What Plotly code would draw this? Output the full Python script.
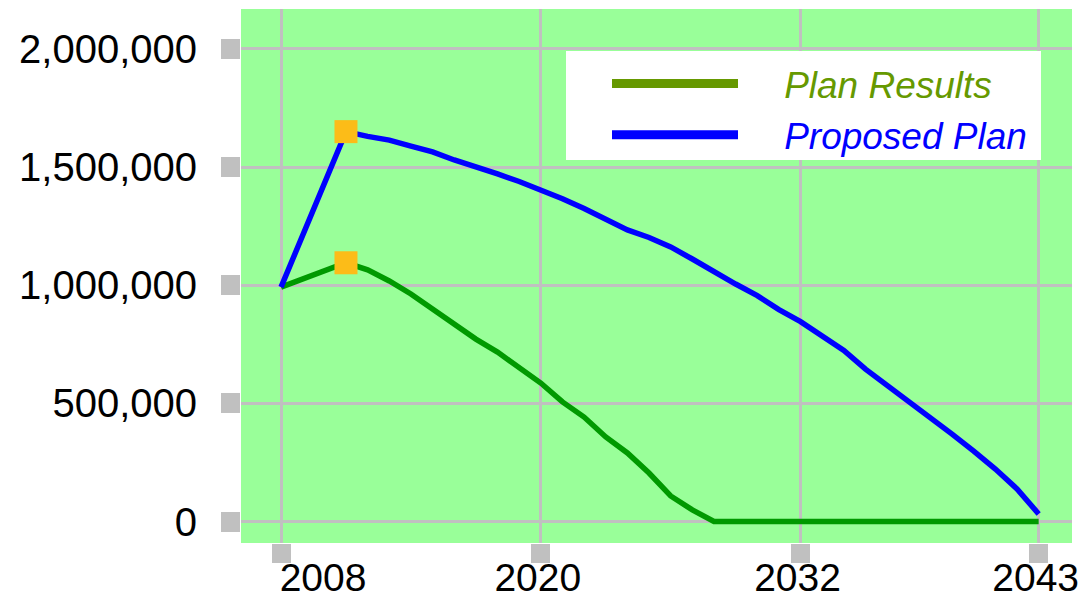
import plotly.graph_objects as go

# ---- data ----
years = [2008, 2011, 2012, 2013, 2014, 2015, 2016, 2017, 2018, 2019, 2020,
         2021, 2022, 2023, 2024, 2025, 2026, 2027, 2028, 2029, 2030, 2031,
         2032, 2033, 2034, 2035, 2036, 2037, 2038, 2039, 2040, 2041, 2042, 2043]

plan_results = [992000, 1095000, 1065000, 1018000, 963000, 899000, 832000,
                772000, 717000, 654000, 586000, 506000, 442000, 358000, 290000,
                205000, 108000, 49000, 0, 0, 0, 0, 0, 0, 0, 0, 0, 0, 0, 0, 0,
                0, 0, 0]

proposed_plan = [992000, 1650000, 1630000, 1614000, 1589000, 1564000, 1530000,
                 1502000, 1471000, 1439000, 1405000, 1366000, 1325000, 1277000,
                 1234000, 1202000, 1162000, 1111000, 1056000, 1005000, 956000,
                 897000, 846000, 785000, 724000, 645000, 578000, 508000, 440000,
                 370000, 298000, 222000, 138000, 32000]

peak_year = 2011
series_names = ["Plan Results", "Proposed Plan"]
x_tick_vals = [2008, 2020, 2032, 2043]
y_tick_vals = [0, 500000, 1000000, 1500000, 2000000]
y_tick_text = ["0", "500,000", "1,000,000", "1,500,000", "2,000,000"]

# ---- styling ----
FONT = "Liberation Sans, Arial, sans-serif"
GRID = "#c0c0c0"
LINE_GREEN = "#009900"
LEGEND_GREEN = "#669900"
BLUE = "#0000ff"
MARKER = "#fcbc18"
X_RANGE = [2006.15, 2044.54]
Y_RANGE = [-91000, 2169000]

W, H = 1086, 600
ML, MR, MT, MB = 241, 14, 9, 57
PW, PH = W - ML - MR, H - MT - MB

peak_idx = years.index(peak_year)

fig = go.Figure()
fig.add_trace(go.Scatter(x=years, y=plan_results, mode="lines",
                         line=dict(color=LINE_GREEN, width=5.5),
                         showlegend=False, name=series_names[0]))
fig.add_trace(go.Scatter(x=years, y=proposed_plan, mode="lines",
                         line=dict(color=BLUE, width=5.5),
                         showlegend=False, name=series_names[1]))
fig.add_trace(go.Scatter(x=[peak_year, peak_year],
                         y=[plan_results[peak_idx], proposed_plan[peak_idx]],
                         mode="markers", xaxis="x2",
                         marker=dict(symbol="square", size=23, color=MARKER,
                                     line=dict(width=0)),
                         showlegend=False))

# legend entries
pad = "\u00a0" * 4
for nm, col in [(series_names[0], LEGEND_GREEN), (series_names[1], BLUE)]:
    fig.add_trace(go.Scatter(x=[None], y=[None], mode="lines",
                             line=dict(color=col, width=9),
                             name=f"{pad}<span style='color:{col}'>{nm}</span>"))

tickfont = dict(family=FONT, size=40, color="black")
xtickfont = dict(family=FONT, size=39, color="black")

# white legend panel (pixel box converted to paper coords)
box = dict(x0=566, x1=1041, y0=51, y1=160)
fig.add_shape(type="rect", xref="paper", yref="paper",
              x0=(box["x0"] - ML) / PW, x1=(box["x1"] - ML) / PW,
              y0=(H - MB - box["y1"]) / PH, y1=(H - MB - box["y0"]) / PH,
              fillcolor="white", line=dict(width=0), layer="above")

fig.update_layout(
    width=W, height=H,
    margin=dict(l=ML, r=MR, t=MT, b=MB, pad=0),
    paper_bgcolor="white",
    plot_bgcolor="#99ff99",
    xaxis=dict(range=X_RANGE, tickvals=x_tick_vals,
               ticktext=[""] + [str(v) for v in x_tick_vals[1:]],
               ticks="outside", ticklen=19, tickwidth=19, tickcolor=GRID,
               showgrid=True, gridcolor=GRID, gridwidth=3,
               zeroline=False, showline=False, tickfont=xtickfont,
               ticklabelshift=-3, ticklabelstandoff=-19, automargin=False),
    xaxis2=dict(range=X_RANGE, overlaying="x", anchor="y", side="bottom",
                tickvals=[x_tick_vals[0]], ticktext=[str(x_tick_vals[0])],
                ticks="outside", ticklen=19, tickwidth=19, tickcolor=GRID,
                showgrid=False, zeroline=False, showline=False,
                tickfont=xtickfont, ticklabelshift=42, ticklabelstandoff=-19,
                automargin=False),
    yaxis=dict(range=Y_RANGE, tickvals=y_tick_vals, ticktext=y_tick_text,
               ticks="outside", ticklen=19, tickwidth=20, tickcolor=GRID,
               showgrid=True, gridcolor=GRID, gridwidth=3,
               zeroline=False, showline=False, tickfont=tickfont,
               ticklabelstandoff=16, automargin=False),
    legend=dict(x=(607 - ML) / PW, y=(H - MB - 53) / PH,
                xanchor="left", yanchor="top",
                bgcolor="rgba(0,0,0,0)", borderwidth=0, itemwidth=126,
                font=dict(family=FONT, size=37, style="italic"),
                tracegroupgap=0),
    showlegend=True,
)

fig.write_html("out.html")
